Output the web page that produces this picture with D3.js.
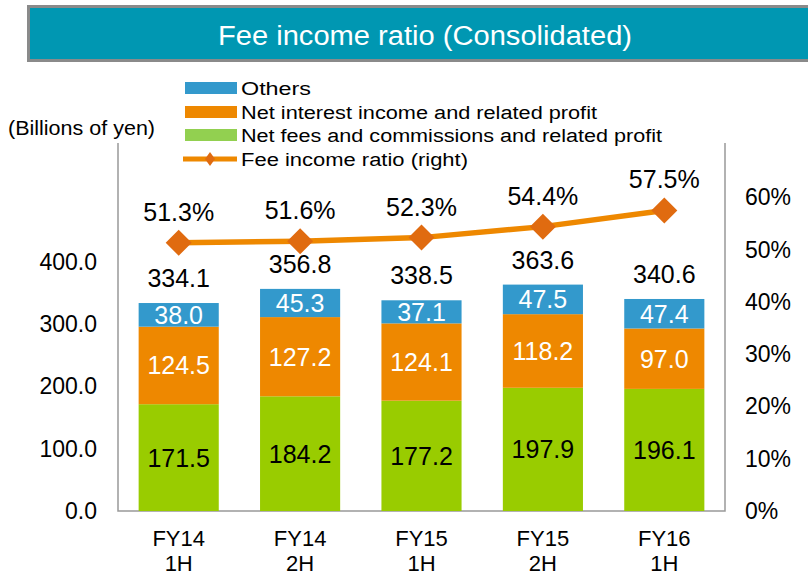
<!DOCTYPE html>
<html>
<head>
<meta charset="utf-8">
<script src="https://cdn.jsdelivr.net/npm/d3@7"></script>
<style>
  body { margin: 0; background: #fff; }
  text { font-family: "Liberation Sans", Arial, sans-serif; }
</style>
</head>
<body>
<div id="chart"></div>
<script>
// Chart data
const categories = ["FY14\n1H", "FY14\n2H", "FY15\n1H", "FY15\n2H", "FY16\n1H"];
const netFees = [171.5, 184.2, 177.2, 197.9, 196.1];
const netInterest = [124.5, 127.2, 124.1, 118.2, 97.0];
const others = [38.0, 45.3, 37.1, 47.5, 47.4];
const totals = [334.1, 356.8, 338.5, 363.6, 340.6];
const feeRatio = [51.3, 51.6, 52.3, 54.4, 57.5];
const leftTicks = [0, 100, 200, 300, 400];
const rightTicks = [0, 10, 20, 30, 40, 50, 60];

const width = 808;
const height = 576;

const svg = d3.select("#chart")
    .append("svg")
    .attr("width", width)
    .attr("height", height);

// Title banner
svg.append("rect")
    .attr("x", 28.5).attr("y", 6.5)
    .attr("width", 790).attr("height", 54)
    .attr("fill", "#0097b2")
    .attr("stroke", "#8a8a8a")
    .attr("stroke-width", 3);

svg.append("text")
    .attr("x", 425).attr("y", 45)
    .attr("text-anchor", "middle")
    .attr("fill", "#fff")
    .attr("font-size", 27)
    .attr("textLength", 414)
    .attr("lengthAdjust", "spacingAndGlyphs")
    .text("Fee income ratio (Consolidated)");

// Plot area
const plot = { left: 118, right: 725, top: 143, bottom: 511 };

const x = d3.scaleBand()
    .domain(categories)
    .range([plot.left, plot.right])
    .paddingInner(0.34)
    .paddingOuter(0.17);

const y = d3.scaleLinear()
    .domain([0, 591])
    .range([plot.bottom, plot.top]);

const yRight = d3.scaleLinear()
    .domain([0, 70.4])
    .range([plot.bottom, plot.top]);

// Frame lines (left, bottom, right)
svg.append("path")
    .attr("fill", "none")
    .attr("stroke", "#999")
    .attr("stroke-width", 1.5)
    .attr("d", `M${plot.left},${plot.top}V${plot.bottom}H${plot.right}V${plot.top}`);

// Stacked bars
const layers = [
    { name: "Net fees and commissions and related profit", values: netFees, color: "#99cc00", textColor: "#000" },
    { name: "Net interest income and related profit", values: netInterest, color: "#ee8800", textColor: "#fff" },
    { name: "Others", values: others, color: "#3399cc", textColor: "#fff" }
];

const base = categories.map(() => 0);
layers.forEach(layer => {
    const g = svg.append("g");
    categories.forEach((c, i) => {
        const y0 = base[i];
        const y1 = y0 + layer.values[i];
        g.append("rect")
            .attr("x", x(c))
            .attr("y", y(y1))
            .attr("width", x.bandwidth())
            .attr("height", y(y0) - y(y1))
            .attr("fill", layer.color);
        g.append("text")
            .attr("x", x(c) + x.bandwidth() / 2)
            .attr("y", (y(y0) + y(y1)) / 2 + 9)
            .attr("text-anchor", "middle")
            .attr("font-size", 25)
            .attr("fill", layer.textColor)
            .text(layer.values[i].toFixed(1));
        base[i] = y1;
    });
});

// Totals above bars
svg.append("g")
    .selectAll("text")
    .data(totals)
    .join("text")
    .attr("x", (d, i) => x(categories[i]) + x.bandwidth() / 2)
    .attr("y", d => y(d) - 16)
    .attr("text-anchor", "middle")
    .attr("font-size", 25)
    .attr("fill", "#000")
    .text(d => d.toFixed(1));

// Fee income ratio line
const cx = (d, i) => x(categories[i]) + x.bandwidth() / 2;
const line = d3.line()
    .x(cx)
    .y(d => yRight(d));

svg.append("path")
    .datum(feeRatio)
    .attr("fill", "none")
    .attr("stroke", "#ee8800")
    .attr("stroke-width", 5.5)
    .attr("d", line);

svg.append("g")
    .selectAll("path")
    .data(feeRatio)
    .join("path")
    .attr("transform", (d, i) => `translate(${cx(d, i)},${yRight(d)})`)
    .attr("d", "M0,-13L13,0L0,13L-13,0Z")
    .attr("fill", "#e06b10");

svg.append("g")
    .selectAll("text")
    .data(feeRatio)
    .join("text")
    .attr("x", cx)
    .attr("y", d => yRight(d) - 22)
    .attr("text-anchor", "middle")
    .attr("font-size", 25)
    .attr("fill", "#000")
    .text(d => d.toFixed(1) + "%");

// Left axis
const leftAxis = svg.append("g")
    .attr("transform", `translate(${plot.left},0)`)
    .call(d3.axisLeft(y).tickValues(leftTicks).tickFormat(d3.format(".1f")).tickSize(0).tickPadding(21));
leftAxis.select(".domain").remove();
leftAxis.selectAll("text")
    .attr("font-size", 23)
    .attr("font-family", "Liberation Sans, Arial, sans-serif")
    .attr("fill", "#000");

// Right axis
const rightAxis = svg.append("g")
    .attr("transform", `translate(${plot.right},0)`)
    .call(d3.axisRight(yRight).tickValues(rightTicks).tickFormat(d => d + "%").tickSize(0).tickPadding(20));
rightAxis.select(".domain").remove();
rightAxis.selectAll("text")
    .attr("font-size", 23)
    .attr("font-family", "Liberation Sans, Arial, sans-serif")
    .attr("fill", "#000");

// Category labels (two lines)
svg.append("g")
    .selectAll("text")
    .data(categories)
    .join("text")
    .attr("text-anchor", "middle")
    .attr("font-size", 22)
    .attr("fill", "#000")
    .each(function(d) {
        const parts = d.split("\n");
        d3.select(this).selectAll("tspan")
            .data(parts)
            .join("tspan")
            .attr("x", x(d) + x.bandwidth() / 2)
            .attr("y", (p, j) => 546 + j * 25)
            .text(p => p);
    });

// Unit label
svg.append("text")
    .attr("x", 8).attr("y", 135)
    .attr("font-size", 20)
    .attr("fill", "#000")
    .attr("textLength", 147)
    .attr("lengthAdjust", "spacingAndGlyphs")
    .text("(Billions of yen)");

// Legend
const legendItems = [
    { name: "Others", color: "#3399cc", type: "box", y: 88, len: 70 },
    { name: "Net interest income and related profit", color: "#ee8800", type: "box", y: 112, len: 356 },
    { name: "Net fees and commissions and related profit", color: "#92d050", type: "box", y: 135, len: 421 },
    { name: "Fee income ratio (right)", color: "#ee8800", type: "line", y: 159, len: 227 }
];

const legend = svg.append("g");
legend.append("rect")
    .attr("x", 180).attr("y", 74)
    .attr("width", 490).attr("height", 96)
    .attr("fill", "#fff");

legendItems.forEach(item => {
    if (item.type === "box") {
        legend.append("rect")
            .attr("x", 185).attr("y", item.y - 6)
            .attr("width", 52).attr("height", 12)
            .attr("fill", item.color);
    } else {
        legend.append("line")
            .attr("x1", 183).attr("x2", 237)
            .attr("y1", item.y).attr("y2", item.y)
            .attr("stroke", item.color)
            .attr("stroke-width", 5);
        legend.append("path")
            .attr("transform", `translate(210,${item.y})`)
            .attr("d", "M0,-7L5,0L0,7L-5,0Z")
            .attr("fill", "#e06b10");
    }
    legend.append("text")
        .attr("x", 241).attr("y", item.y + 6.5)
        .attr("font-size", 18)
        .attr("fill", "#000")
        .attr("textLength", item.len)
        .attr("lengthAdjust", "spacingAndGlyphs")
        .text(item.name);
});
</script>
</body>
</html>
